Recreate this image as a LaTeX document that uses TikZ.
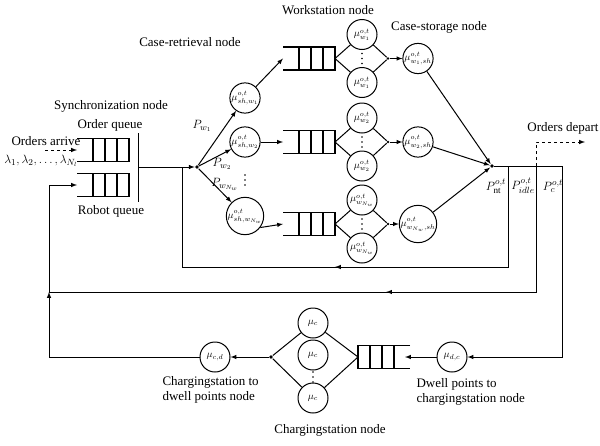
\documentclass[tikz,border=0pt]{standalone}
\usepackage{fontspec}
\setmainfont{Liberation Serif}
\usepackage{amsmath}
\usetikzlibrary{arrows,positioning,decorations.markings}

\tikzset{
  server/.style={circle, draw, line width=1pt, minimum size=30pt, inner sep=0pt, font=\fontsize{10}{11}\selectfont},
  dot/.style={circle, fill, inner sep=1.3pt},
  lbl/.style={font=\fontsize{13}{15}\selectfont, inner sep=0pt},
  plbl/.style={font=\fontsize{13}{15}\selectfont, inner sep=0pt},
  midarrow/.style={postaction={decorate}, decoration={markings, mark=at position #1 with {\arrow{latex}}}},
  pics/fifo/.style={code={
      \draw[line width=1.2pt] (0,-11.5) -- (52,-11.5) -- (52,11.5) -- (0,11.5);
      \foreach \d in {16,28,40} \draw[line width=1.2pt] (\d,-11.5) -- (\d,11.5);
  }},
  pics/vdts/.style={code={
      \foreach \k in {-5,0,5} \fill (0,\k) circle (0.8pt);
  }},
}

\begin{document}
\begin{tikzpicture}[x=1pt,y=-1pt,>=latex,line width=1pt]
\useasboundingbox (0,0) rectangle (600,445);

% synchronization node
\pic at (77,150) {fifo};
\pic at (77,185) {fifo};
\coordinate (ordin) at (77,150);
\coordinate (robin) at (77,185);
\coordinate (arrive) at (45,150);
\draw[dashed,->] (arrive) -- (ordin);
\draw (138,133) -- (138,202);
\coordinate (sync) at (138,167);
\node[dot] (split) at (197,167) {};
\draw[->] (sync) -- (split);
\node[lbl] (synclbl) at (111,106) {Synchronization node};
\node[lbl] (ordlbl) at (110,125) {Order queue};
\node[lbl] (roblbl) at (111,211) {Robot queue};
\node[lbl] (arrlbl) at (46,141) {Orders arrive};
\node[lbl, anchor=east] (lamlbl) at (78,161) {$\lambda_1,\lambda_2,\dots,\lambda_{N_l}$};

% case-retrieval node
\node[server] (sh1) at (245,98) {$\mu^{o,t}_{sh,w_1}$};
\node[server] (sh2) at (245,142) {$\mu^{o,t}_{sh,w_2}$};
\node[server] (sh3) at (245,216) {$\mu^{o,t}_{sh,w_{N_w}}$};
\pic at (245,180) {vdts};
\draw[->] (split) -- (sh1);
\draw[->] (split) -- (sh2);
\draw[->] (split) -- (sh3);
\node[plbl] (pw1) at (202,126) {$P_{w_1}$};
\node[plbl] (pw2) at (222,164) {$P_{w_2}$};
\node[plbl] (pw3) at (225,184) {$P_{w_{N_w}}$};
\node[lbl] (retlbl) at (190,42) {Case-retrieval node};

% workstation and case-storage nodes
\node[dot] (merge) at (492,166) {};
\foreach \i/\y/\w in {1/58.5/w_1, 2/142/w_2, 3/224/{w_{N_w}}} {
  \pic at (283,\y) {fifo};
  \coordinate (q\i) at (283,\y);
  \coordinate (ws\i) at (335,\y);
  \node[server] (wa\i) at (362,{\y-24}) {$\mu^{o,t}_{\w}$};
  \node[server] (wb\i) at (362,{\y+24}) {$\mu^{o,t}_{\w}$};
  \pic at (362,\y) {vdts};
  \node[dot, inner sep=1pt] (we\i) at (388,\y) {};
  \node[server] (st\i) at (418,\y) {$\mu^{o,t}_{\w,sh}$};
  \draw (ws\i) -- (wa\i);
  \draw (ws\i) -- (wb\i);
  \draw (wa\i) -- (we\i);
  \draw (wb\i) -- (we\i);
  \draw[->] (we\i) -- (st\i);
  \draw[->] (st\i) -- (merge);
}
\draw[->] (sh1) -- (q1);
\draw[->] (sh2) -- (q2);
\draw[->] (sh3.-37) -- (q3);
\node[lbl] (wslbl) at (328,10) {Workstation node};
\node[lbl] (stlbl) at (439,27) {Case-storage node};

% routing after case-storage
\coordinate (nt) at (508,166);
\coordinate (idle) at (536,166);
\coordinate (chg) at (562,166);
\draw (merge) -- (chg);
\node[plbl] (pnt) at (496,186) {$P^{o,t}_{\mathrm{nt}}$};
\node[plbl] (pidle) at (523,186) {$P^{o,t}_{idle}$};
\node[plbl] (pc) at (553,186) {$P^{o,t}_{c}$};
\draw[midarrow=0.52] (nt) -- (508,267) -- (182,267) -- (182,167);
\coordinate (jn) at (49,292);
\draw[midarrow=0.45] (idle) -- (536,292) -- (jn);
\coordinate (depart) at (585,142);
\draw[dashed,->] (idle) -- (536,142) -- (depart);
\node[lbl] (deplbl) at (563,128) {Orders depart};

% charging loop
\node[server] (mudc) at (452,357) {$\mu_{d,c}$};
\draw[->] (chg) -- (562,357) -- (mudc);
\pic[xscale=-1] at (410,357) {fifo};
\coordinate (chin) at (405,357);
\coordinate (chq) at (358,357);
\draw[->] (mudc) -- (chin);
\node[server] (c1) at (313,323) {$\mu_c$};
\node[server] (c2) at (313,355) {$\mu_c$};
\node[server] (c3) at (313,398) {$\mu_c$};
\pic at (313,377) {vdts};
\node[dot] (cout) at (271,357) {};
\draw (chq) -- (c1);
\draw (chq) -- (c3);
\draw (c1) -- (cout);
\draw (c3) -- (cout);
\node[server] (mucd) at (215,357) {$\mu_{c,d}$};
\draw[->] (cout) -- (mucd);
\draw[->] (mucd) -- (49,357) -- (jn);
\draw[->] (jn) -- (49,185) -- (robin);
\node[lbl, anchor=north west, align=left] (cdlbl) at (162,376) {Chargingstation to\\dwell points node};
\node[lbl, anchor=north west, align=left] (dclbl) at (416,378) {Dwell points to\\chargingstation node};
\node[lbl] (cslbl) at (330,430) {Chargingstation node};
\end{tikzpicture}
\end{document}
